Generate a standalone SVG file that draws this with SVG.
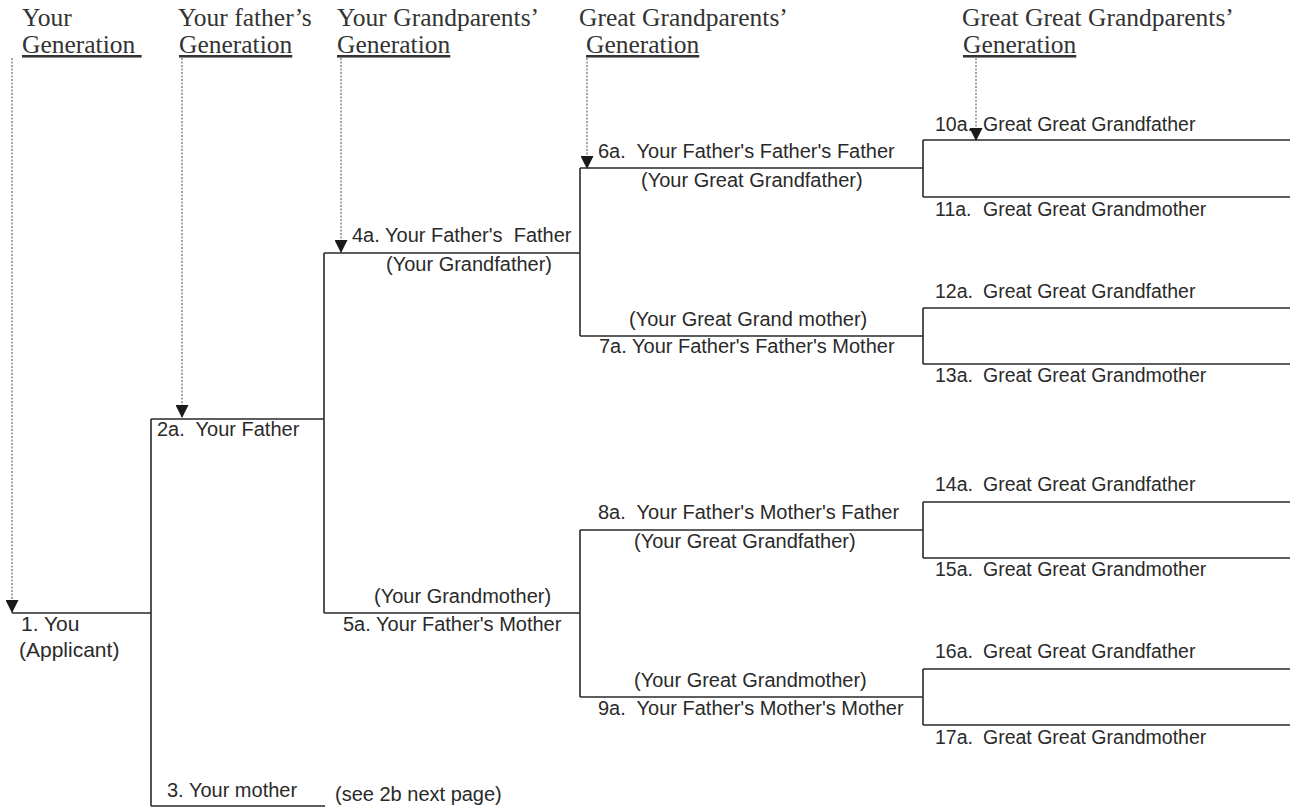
<svg xmlns="http://www.w3.org/2000/svg" width="1293" height="809" viewBox="0 0 1293 809">
<defs>
<marker id="arr" viewBox="0 0 13 13" refX="13" refY="6.5" markerWidth="13" markerHeight="13" markerUnits="userSpaceOnUse" orient="auto">
<path d="M0,0 L13,6.5 L0,13 Z" fill="#1a1a1a"/>
</marker>
</defs>
<style>
.hd{font-family:"Liberation Serif","Times New Roman",serif;font-size:25.5px;fill:#333}
.ul{text-decoration:underline}
.lb{font-family:"Liberation Sans",Arial,sans-serif;font-size:20px;fill:#2a2a2a}
.gg{font-size:19.5px}
.ln{stroke:#2a2a2a;stroke-width:1.6;fill:none}
.dt{stroke:#777;stroke-width:1.3;stroke-dasharray:2 1.5;fill:none}
</style>
<rect width="1293" height="809" fill="#fff"/>
<g id="headers">
<text class="hd" x="22" y="26">Your</text>
<text class="hd ul" x="22" y="53" xml:space="preserve">Generation </text>
<text class="hd" x="178" y="26">Your father’s</text>
<text class="hd ul" x="179" y="53">Generation</text>
<text class="hd" x="337" y="26">Your Grandparents’</text>
<text class="hd ul" x="337" y="53">Generation</text>
<text class="hd" x="579" y="26">Great Grandparents’</text>
<text class="hd ul" x="586" y="53">Generation</text>
<text class="hd" x="962" y="26">Great Great Grandparents’</text>
<text class="hd ul" x="963" y="53">Generation</text>
</g>
<g id="connectors">
<path class="dt" d="M12,58 V613" marker-end="url(#arr)"/>
<path class="dt" d="M182,58 V418" marker-end="url(#arr)"/>
<path class="dt" d="M341,58 V253" marker-end="url(#arr)"/>
<path class="dt" d="M587,58 V169" marker-end="url(#arr)"/>
<path class="dt" d="M976,58 V141" marker-end="url(#arr)"/>
<path class="ln" d="M12,613 H151 M151,419 V806 M151,419 H324 M151,806 H325"/>
<path class="ln" d="M324,253 V613 M324,253 H580 M324,613 H580"/>
<path class="ln" d="M580,168 V336 M580,168 H923 M580,336 H923"/>
<path class="ln" d="M580,530 V697 M580,530 H923 M580,697 H923"/>
<path class="ln" d="M923,140 V197 M923,140 H1290 M923,197 H1290"/>
<path class="ln" d="M923,308 V364 M923,308 H1290 M923,364 H1290"/>
<path class="ln" d="M923,502 V558 M923,502 H1290 M923,558 H1290"/>
<path class="ln" d="M923,669 V725 M923,669 H1290 M923,725 H1290"/>
</g>
<g id="n1"><text class="lb" x="21" y="631" style="font-size:21px">1. You</text><text class="lb" x="19" y="657" style="font-size:21px">(Applicant)</text></g>
<g id="n2a"><text class="lb" x="157" y="436" xml:space="preserve">2a.  Your Father</text></g>
<g id="n3"><text class="lb" x="167" y="797">3. Your mother</text><text class="lb" x="335" y="801">(see 2b next page)</text></g>
<g id="n4a"><text class="lb" x="352" y="242" xml:space="preserve">4a. Your Father's  Father</text><text class="lb" x="386" y="271">(Your Grandfather)</text></g>
<g id="n5a"><text class="lb" x="374" y="603">(Your Grandmother)</text><text class="lb" x="343" y="631">5a. Your Father's Mother</text></g>
<g id="n6a"><text class="lb" x="598" y="158" xml:space="preserve">6a.  Your Father's Father's Father</text><text class="lb" x="641" y="187">(Your Great Grandfather)</text></g>
<g id="n7a"><text class="lb" x="629" y="326">(Your Great Grand mother)</text><text class="lb" x="599" y="353">7a. Your Father's Father's Mother</text></g>
<g id="n8a"><text class="lb" x="598" y="519" xml:space="preserve">8a.  Your Father's Mother's Father</text><text class="lb" x="634" y="548">(Your Great Grandfather)</text></g>
<g id="n9a"><text class="lb" x="634" y="687">(Your Great Grandmother)</text><text class="lb" x="598" y="715" xml:space="preserve">9a.  Your Father's Mother's Mother</text></g>
<g id="n10a"><text class="lb gg" x="935" y="131">10a. <tspan x="983">Great Great Grandfather</tspan></text></g>
<g id="n11a"><text class="lb gg" x="935" y="216">11a. <tspan x="983">Great Great Grandmother</tspan></text></g>
<g id="n12a"><text class="lb gg" x="935" y="298">12a. <tspan x="983">Great Great Grandfather</tspan></text></g>
<g id="n13a"><text class="lb gg" x="935" y="382">13a. <tspan x="983">Great Great Grandmother</tspan></text></g>
<g id="n14a"><text class="lb gg" x="935" y="491">14a. <tspan x="983">Great Great Grandfather</tspan></text></g>
<g id="n15a"><text class="lb gg" x="935" y="576">15a. <tspan x="983">Great Great Grandmother</tspan></text></g>
<g id="n16a"><text class="lb gg" x="935" y="658">16a. <tspan x="983">Great Great Grandfather</tspan></text></g>
<g id="n17a"><text class="lb gg" x="935" y="744">17a. <tspan x="983">Great Great Grandmother</tspan></text></g>
</svg>
